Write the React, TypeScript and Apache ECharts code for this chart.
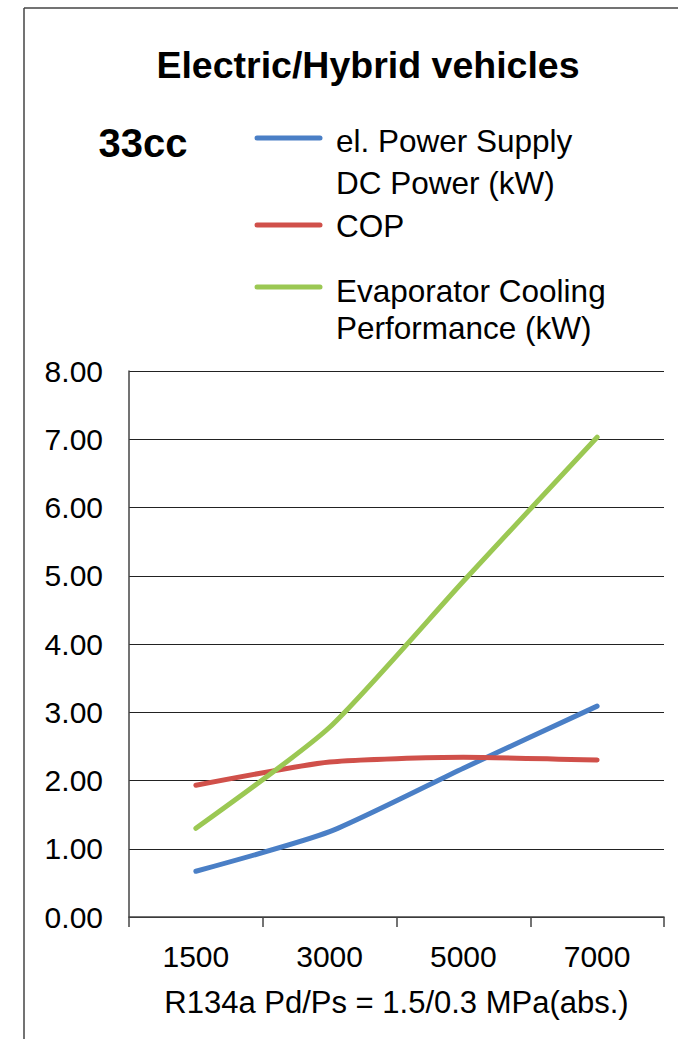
import React, { useEffect, useRef } from "react";
import * as echarts from "echarts";

const categories = ["1500", "3000", "5000", "7000"];
const powerSupply = [0.67, 1.25, 2.18, 3.09];
const cop = [1.93, 2.27, 2.34, 2.3];
const cooling = [1.3, 2.78, 4.92, 7.03];
const yTicks = { min: 0, max: 8, interval: 1 };
const seriesNames = ["el. Power Supply DC Power (kW)", "COP", "Evaporator Cooling Performance (kW)"];
const colors = ["#4A7FC6", "#D0504A", "#9BC853"];

const FONT = "Liberation Sans, Arial, Helvetica, sans-serif";

export default function App() {
  const ref = useRef<HTMLDivElement>(null);
  useEffect(() => {
    if (!ref.current) return;
    const chart = echarts.init(ref.current, null, { renderer: "svg" });
    const legendItems = [
      { y: 138, color: colors[0], lines: [["el. Power Supply", 141], ["DC Power (kW)", 183]] },
      { y: 225, color: colors[1], lines: [["COP", 226]] },
      { y: 287, color: colors[2], lines: [["Evaporator Cooling", 291], ["Performance (kW)", 328]] },
    ];
    const graphic: any[] = [
      { type: "line", shape: { x1: 24, y1: 8, x2: 24, y2: 1039 }, style: { stroke: "#444", lineWidth: 1.5 } },
      { type: "line", shape: { x1: 24, y1: 8, x2: 678, y2: 8 }, style: { stroke: "#444", lineWidth: 1.5 } },
      {
        type: "text", x: 368, y: 65,
        style: { text: "Electric/Hybrid vehicles", font: `bold 37.5px ${FONT}`, fill: "#000", textAlign: "center", textVerticalAlign: "middle" },
      },
      {
        type: "text", x: 143, y: 143,
        style: { text: "33cc", font: `bold 40px ${FONT}`, fill: "#000", textAlign: "center", textVerticalAlign: "middle" },
      },
    ];
    legendItems.forEach((it) => {
      graphic.push({
        type: "line", shape: { x1: 257, y1: it.y, x2: 320, y2: it.y },
        style: { stroke: it.color, lineWidth: 5, lineCap: "round" },
      });
      it.lines.forEach(([t, y]) => {
        graphic.push({
          type: "text", x: 336, y: y as number,
          style: { text: t as string, font: `31.5px ${FONT}`, fill: "#000", textAlign: "left", textVerticalAlign: "middle" },
        });
      });
    });
    const mk = (i: number, data: number[]) => ({
      name: seriesNames[i],
      type: "line",
      data,
      smooth: 0.2,
      symbol: "none",
      lineStyle: { color: colors[i], width: 5, cap: "round" },
      itemStyle: { color: colors[i] },
    });
    chart.setOption({
      animation: false,
      backgroundColor: "#fff",
      grid: { left: 129, top: 371, right: 14, bottom: 122 },
      xAxis: {
        type: "category",
        data: categories,
        boundaryGap: true,
        name: "R134a Pd/Ps = 1.5/0.3 MPa(abs.)",
        nameLocation: "middle",
        nameGap: 70,
        nameTextStyle: { fontSize: 31, color: "#000", fontFamily: FONT },
        axisLine: { lineStyle: { color: "#444", width: 1.5 } },
        axisTick: { show: true, length: 10, lineStyle: { color: "#444", width: 1.5 } },
        axisLabel: { fontSize: 30, color: "#000", fontFamily: FONT, margin: 24 },
      },
      yAxis: {
        type: "value",
        min: yTicks.min,
        max: yTicks.max,
        interval: yTicks.interval,
        axisLine: { show: true, lineStyle: { color: "#444", width: 1.5 } },
        axisTick: { show: false },
        axisLabel: { fontSize: 30, color: "#000", fontFamily: FONT, margin: 26, formatter: (v: number) => v.toFixed(2) },
        splitLine: { show: true, lineStyle: { color: "#222", width: 1.2 } },
      },
      series: [mk(0, powerSupply), mk(1, cop), mk(2, cooling)],
      graphic,
    });
    return () => chart.dispose();
  }, []);
  return <div ref={ref} style={{ position: "fixed", left: 0, top: 0, width: 678, height: 1039, background: "#fff" }} />;
}
